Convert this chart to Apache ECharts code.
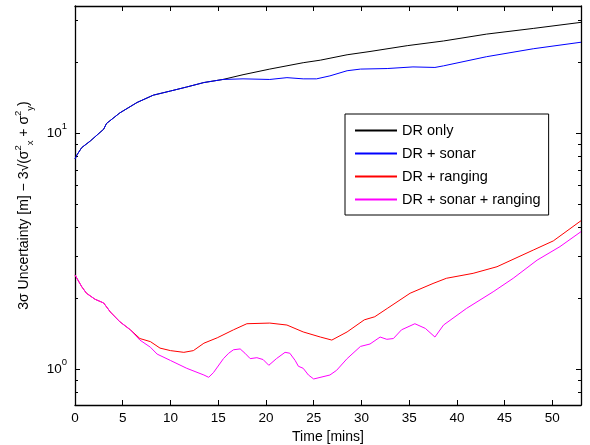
<!DOCTYPE html>
<html><head><meta charset="utf-8">
<script src="https://cdn.jsdelivr.net/npm/echarts@6/dist/echarts.min.js"></script>
<style>html,body{margin:0;padding:0;background:#fff}#c{width:590px;height:445px}</style>
</head><body><div id="c"></div>
<script>
const seriesNames = ['DR only', 'DR + sonar', 'DR + ranging', 'DR + sonar + ranging'];

const tDR = [0, 0.2, 0.7, 1.6, 3.0, 3.3, 4.7, 6.5, 8.2, 10.0, 11.7, 13.5, 15.5, 17.6, 20.4, 23.9, 25.7, 28.5, 30.9, 34.8, 38.6, 43.1, 48.0, 53];
const vDR = [7.78, 8.09, 8.69, 9.27, 10.4, 11.0, 12.2, 13.5, 14.5, 15.1, 15.7, 16.4, 16.9, 17.7, 18.7, 19.9, 20.4, 21.5, 22.2, 23.5, 24.6, 26.3, 27.8, 29.5];

const tSonar = [0, 0.2, 0.7, 1.6, 3.0, 3.3, 4.7, 6.5, 8.2, 10.0, 11.7, 13.5, 15.5, 17.6, 20.4, 22.2, 23.9, 25.3, 26.7, 28.5, 29.9, 32.7, 35.4, 37.7, 38.6, 43.1, 48.0, 53];
const vSonar = [7.78, 8.09, 8.69, 9.27, 10.4, 11.0, 12.2, 13.5, 14.5, 15.1, 15.7, 16.4, 16.9, 17.0, 16.9, 17.2, 17.0, 17.0, 17.5, 18.4, 18.7, 18.8, 19.1, 19.0, 19.3, 21.1, 22.8, 24.3];

const tRanging = [0, 0.2, 0.7, 1.2, 2.1, 3.0, 3.7, 4.7, 5.8, 6.8, 7.9, 8.9, 10.0, 11.4, 12.4, 13.5, 14.9, 16.6, 18.0, 20.4, 22.2, 23.9, 25.7, 26.9, 28.5, 30.3, 31.4, 32.7, 35.1, 37.5, 38.9, 41.7, 44.2, 48.0, 50.1, 53];
const vRanging = [2.51, 2.47, 2.24, 2.10, 1.98, 1.91, 1.75, 1.59, 1.47, 1.35, 1.31, 1.23, 1.20, 1.18, 1.20, 1.29, 1.36, 1.47, 1.56, 1.57, 1.54, 1.44, 1.37, 1.33, 1.44, 1.62, 1.67, 1.81, 2.10, 2.31, 2.43, 2.55, 2.72, 3.20, 3.50, 4.26];

const tBoth = [0, 0.2, 0.7, 1.2, 2.1, 3.0, 3.7, 4.7, 5.8, 6.8, 7.9, 8.6, 10.0, 11.7, 13.5, 14.0, 14.5, 15.55, 16.1, 16.6, 17.3, 17.8, 18.35, 19.05, 19.7, 20.3, 21.1, 22.0, 22.5, 23.06, 23.4, 23.9, 24.45, 25.0, 26.7, 27.4, 28.5, 29.9, 30.9, 31.96, 32.66, 33.35, 34.2, 35.6, 36.7, 37.7, 38.6, 41.0, 43.8, 45.9, 48.4, 50.8, 53];
const vBoth = [2.51, 2.47, 2.24, 2.10, 1.98, 1.91, 1.75, 1.59, 1.47, 1.33, 1.24, 1.16, 1.09, 1.01, 0.946, 0.925, 0.968, 1.11, 1.17, 1.21, 1.22, 1.17, 1.11, 1.12, 1.10, 1.04, 1.11, 1.18, 1.17, 1.09, 1.03, 1.01, 0.946, 0.91, 0.946, 0.99, 1.11, 1.25, 1.28, 1.37, 1.34, 1.35, 1.47, 1.56, 1.49, 1.37, 1.54, 1.81, 2.13, 2.43, 2.90, 3.31, 3.83];

const seriesColors = ['#000000', '#0000ff', '#ff0000', '#ff00ff'];
const yMajorTicks = [1, 10];
const yMinorTicks = [0.8, 0.9, 2, 3, 4, 5, 6, 7, 8, 9, 20, 30];
const xMin = 0, xMax = 53, xStep = 5;
const yMin = 0.706, yMax = 34.6;

const FF = '"Liberation Sans", Arial, Helvetica, sans-serif';
const pairs = (t, v) => t.map((x, i) => [x, v[i]]);
const seriesData = [pairs(tDR, vDR), pairs(tSonar, vSonar), pairs(tRanging, vRanging), pairs(tBoth, vBoth)];

const axLine = { show: true, lineStyle: { color: '#000', width: 1.3 } };
const tickStyle = { color: '#000', width: 1 };

const chart = echarts.init(document.getElementById('c'), null, { renderer: 'canvas' });
chart.setOption({
  animation: false,
  backgroundColor: '#fff',
  grid: { left: 75, right: 9, top: 6, bottom: 40, outerBoundsMode: 'none' },
  legend: {
    orient: 'vertical', left: 345, top: 114,
    data: seriesNames,
    itemWidth: 42, itemHeight: 14, itemGap: 8,
    padding: [9, 8, 8, 9],
    borderColor: '#000', borderWidth: 1, backgroundColor: '#fff',
    itemStyle: { opacity: 0 },
    textStyle: { fontFamily: FF, fontSize: 14.5, color: '#000' }
  },
  xAxis: [
    {
      type: 'value', min: xMin, max: xMax, interval: xStep, position: 'bottom',
      axisLine: axLine,
      axisTick: { inside: true, length: 5, lineStyle: tickStyle },
      axisLabel: { color: '#000', fontFamily: FF, fontSize: 13.5, margin: 6, showMaxLabel: false },
      splitLine: { show: false },
      name: 'Time [mins]', nameLocation: 'middle', nameGap: 21,
      nameTextStyle: { fontFamily: FF, fontSize: 14, color: '#000' }
    },
    {
      type: 'value', min: xMin, max: xMax, interval: xStep, position: 'top',
      axisLine: axLine,
      axisTick: { inside: true, length: 5, lineStyle: tickStyle },
      axisLabel: { show: false }, splitLine: { show: false }
    }
  ],
  yAxis: [
    {
      type: 'log', logBase: 10, min: yMin, max: yMax, position: 'left',
      axisLine: axLine,
      axisTick: { inside: true, length: 5, lineStyle: tickStyle, customValues: yMajorTicks },
      axisLabel: {
        customValues: yMajorTicks, margin: 8, color: '#000',
        formatter: v => '{b|10}{s|' + Math.round(Math.log10(v)) + '}',
        rich: {
          b: { fontFamily: FF, fontSize: 13.5, lineHeight: 24, color: '#000' },
          s: { fontFamily: FF, fontSize: 9.5, lineHeight: 10, verticalAlign: 'top', color: '#000' }
        }
      },
      splitLine: { show: false },
      name: '{m|3σ Uncertainty [m] − 3√(σ}{p|2}{q|x}{m| + σ}{p|2}{q|y}{m|)}',
      nameLocation: 'middle', nameGap: 40,
      nameTextStyle: {
        color: '#000',
        rich: {
          m: { fontFamily: FF, fontSize: 14, lineHeight: 22, color: '#000' },
          p: { fontFamily: FF, fontSize: 9.5, lineHeight: 10, verticalAlign: 'top', color: '#000' },
          q: { fontFamily: FF, fontSize: 9.5, lineHeight: 10, verticalAlign: 'bottom', color: '#000' }
        }
      }
    },
    {
      type: 'log', logBase: 10, min: yMin, max: yMax, position: 'left',
      axisLine: { show: false },
      axisTick: { inside: true, length: 3, lineStyle: tickStyle, customValues: yMinorTicks },
      axisLabel: { show: false }, splitLine: { show: false }
    },
    {
      type: 'log', logBase: 10, min: yMin, max: yMax, position: 'right',
      axisLine: axLine,
      axisTick: { inside: true, length: 5, lineStyle: tickStyle, customValues: yMajorTicks },
      axisLabel: { show: false }, splitLine: { show: false }
    },
    {
      type: 'log', logBase: 10, min: yMin, max: yMax, position: 'right',
      axisLine: { show: false },
      axisTick: { inside: true, length: 3, lineStyle: tickStyle, customValues: yMinorTicks },
      axisLabel: { show: false }, splitLine: { show: false }
    }
  ],
  series: seriesNames.map((n, i) => ({
    name: n, type: 'line', xAxisIndex: 0, yAxisIndex: 0,
    data: seriesData[i], symbol: 'none', smooth: false,
    lineStyle: { color: seriesColors[i], width: 1 },
    itemStyle: { color: seriesColors[i] }
  }))
});
</script></body></html>
